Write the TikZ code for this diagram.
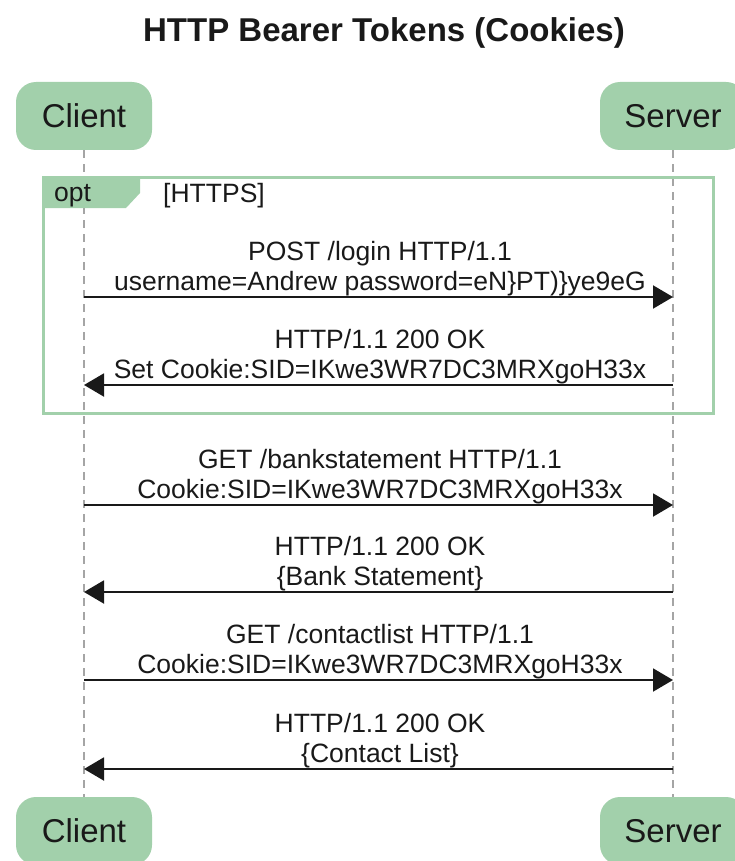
\documentclass[tikz,border=0pt]{standalone}
\usepackage{fontspec}
\setmainfont{Liberation Sans}
\usetikzlibrary{arrows.meta}
\definecolor{pgreen}{RGB}{162,208,171}
\definecolor{lifegray}{RGB}{165,165,165}
\definecolor{ink}{RGB}{25,25,25}
\begin{document}
\begin{tikzpicture}[x=1pt,y=-1pt,
  participant/.style={fill=pgreen, rounded corners=20pt, minimum height=68pt, inner sep=0pt,
    font=\fontsize{33}{36}\selectfont, text=ink},
  lifeline/.style={draw=lifegray, line width=1.3pt, dash pattern=on 8pt off 6pt},
  msg/.style={draw=ink, line width=2pt, -{Triangle[length=20pt,width=23pt]}},
  msglabel/.style={anchor=south, inner sep=0pt, align=center, text=ink,
    font=\fontsize{26.5}{30}\selectfont},
  frametext/.style={anchor=west, inner sep=0pt, text=ink, font=\fontsize{26.5}{30}\selectfont}]
\useasboundingbox (0,0) rectangle (735,861);

% title
\node[anchor=base, inner sep=0pt, font=\fontsize{33}{36}\selectfont\bfseries, text=ink] (title) at (384,42) {HTTP Bearer Tokens (Cookies)};

% participants
\node[participant, minimum width=136pt] (client) at (84,116) {Client};
\node[participant, minimum width=146pt] (server) at (673,116) {Server};
\node[participant, minimum width=136pt] (clientB) at (84,831) {Client};
\node[participant, minimum width=146pt] (serverB) at (673,831) {Server};

% lifelines
\draw[lifeline] (client.south) -- (clientB.north);
\draw[lifeline] (server.south) -- (serverB.north);

% opt frame
\draw[pgreen, line width=3pt] (43,178) rectangle (713,413);
\fill[pgreen] (43,178) -- (140,178) -- (140,193) -- (126,208) -- (43,208) -- cycle;
\node[frametext] (opt) at (54,196) {opt};
\node[frametext] (guard) at (163,196) {[HTTPS]};

% message anchor points
\foreach \i/\y in {1/297,2/385,3/505,4/592,5/680,6/769}{
  \coordinate (c\i) at (84,\y);
  \coordinate (s\i) at (673,\y);
}

% messages
\draw[msg] (c1) -- (s1);
\node[msglabel] (l1) at (380,296) {POST /login HTTP/1.1\\username=Andrew password=eN\}PT)\}ye9eG};
\draw[msg] (s2) -- (c2);
\node[msglabel] (l2) at (380,384) {HTTP/1.1 200 OK\\Set Cookie:SID=IKwe3WR7DC3MRXgoH33x};
\draw[msg] (c3) -- (s3);
\node[msglabel] (l3) at (380,504) {GET /bankstatement HTTP/1.1\\Cookie:SID=IKwe3WR7DC3MRXgoH33x};
\draw[msg] (s4) -- (c4);
\node[msglabel] (l4) at (380,591) {HTTP/1.1 200 OK\\\{Bank Statement\}};
\draw[msg] (c5) -- (s5);
\node[msglabel] (l5) at (380,679) {GET /contactlist HTTP/1.1\\Cookie:SID=IKwe3WR7DC3MRXgoH33x};
\draw[msg] (s6) -- (c6);
\node[msglabel] (l6) at (380,768) {HTTP/1.1 200 OK\\\{Contact List\}};
\end{tikzpicture}
\end{document}
